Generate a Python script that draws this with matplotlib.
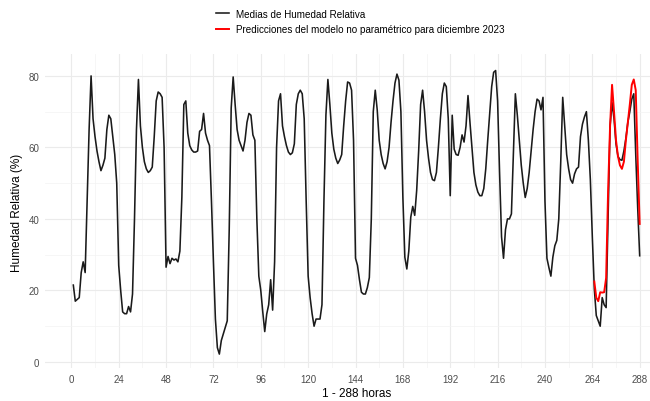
import matplotlib
matplotlib.use("Agg")
import matplotlib.pyplot as plt
import numpy as np

plt.rcParams['font.family'] = ['Liberation Sans', 'DejaVu Sans']

# Hourly mean relative humidity, hours 1..288
humedad = [
    21.5, 17, 17.5, 18, 25, 28, 25, 45, 65, 80,
    68, 63, 59, 56, 53.5, 55, 57, 65, 69, 68,
    63, 58, 50, 27, 20, 14, 13.5, 13.5, 15.5, 14,
    19, 40, 65, 79, 66, 60, 56, 54, 53, 53.5,
    54.5, 63, 73, 75.5, 75, 74, 60, 26.5, 29.5, 27.5,
    29, 28.5, 28.8, 28, 31, 46, 72, 73, 64, 60.5,
    59.3, 58.7, 58.7, 59, 64.5, 65, 69.5, 64, 62, 60.5,
    45, 28, 12, 4, 2.2, 6, 7.8, 9.5, 11.5, 37,
    71, 79.7, 72, 65, 62, 60.5, 59, 62, 67, 69.5,
    69, 63.5, 62, 40, 24, 20, 14, 8.5, 13.4, 16,
    23, 14.5, 28, 60, 73, 75, 66, 63, 60.5, 58.7,
    58, 58.5, 61, 72, 75, 76, 75, 68, 45, 24,
    18, 13.5, 10, 12, 12, 12, 16, 45, 69, 79,
    72, 64, 59.5, 57, 55.5, 56.5, 58, 66, 73, 78.3,
    78, 76, 62, 29, 27, 23, 19.5, 19, 19, 20.8,
    23.6, 40, 70, 76, 70.5, 62, 58, 55.5, 54, 56,
    60, 67, 73, 78, 80.5, 78.8, 70, 46, 29.3, 26,
    31, 40.5, 43.5, 41, 48, 59, 72, 76, 70, 62,
    57, 53, 51, 50.7, 53, 60, 68, 75, 78, 77,
    68, 46.5, 69, 59.5, 58, 57.8, 60, 63.5, 61.5, 66,
    74.5, 67, 60, 53, 49.5, 47.5, 46.5, 46.5, 48.5, 54,
    62, 69.5, 77, 81, 81.5, 73, 53, 35, 29, 37,
    40, 40, 41.4, 58, 75, 69, 62, 55, 50, 46,
    48.5, 53, 59, 65, 70, 73.5, 73, 70.5, 74, 45,
    29, 26.4, 24, 29.3, 32.5, 34, 40, 56, 74, 66,
    58, 54, 51, 50, 52.6, 54, 54.5, 63, 66.5, 68.5,
    70, 62, 51, 35, 20.5, 13, 11.5, 10, 18, 16,
    15.2, 40, 66, 72.5, 68, 61, 57.5, 56.6, 56.4, 59,
    62.5, 67, 70, 73.5, 75, 58, 43, 29.7,
]
horas = list(range(1, len(humedad) + 1))

# Non-parametric model predictions, hours 265..288
pred_horas = list(range(265, 289))
prediccion = [
    22.5, 18, 17, 19.5, 19.4, 19.5, 23.5, 48, 66, 77.5,
    70, 62, 57.5, 55, 54, 56, 62, 67, 72, 77.5,
    79, 76, 56, 38.6,
]

x_ticks = list(range(0, 289, 24))
y_ticks = [0, 20, 40, 60, 80]

fig = plt.figure(figsize=(6.5, 4.02), dpi=100)
ax = fig.add_axes([45/650, 0.0811, (668-45)/650, 0.781])

ax.plot(horas, humedad, color='#1a1a1a', lw=1.15, label='Medias de Humedad Relativa')
ax.plot(pred_horas, prediccion, color='#ff0000', lw=1.4,
        label='Predicciones del modelo no paramétrico para diciembre 2023')

ax.set_xlim(-13.35, 302.35)
ax.set_ylim(-1.8, 86)
ax.set_xticks(x_ticks)
ax.set_xticks(list(range(12, 300, 24)), minor=True)
ax.set_yticks(y_ticks)
ax.set_yticks([10, 30, 50, 70], minor=True)
ax.grid(True, which='major', color='#ebebeb', lw=0.8)
ax.grid(True, which='minor', color='#f3f3f3', lw=0.5)
ax.set_axisbelow(True)
for s in ax.spines.values():
    s.set_visible(False)
ax.tick_params(which='both', length=0, labelsize=7, labelcolor='#4d4d4d', pad=4)
ax.set_xlabel('1 - 288 horas', fontsize=8.5, color='black', labelpad=2)
ax.set_ylabel('Humedad Relativa (%)', fontsize=8.5, color='black', labelpad=4)

fig.legend(loc='upper left', bbox_to_anchor=(212/650, 1 - 6/402), frameon=False,
           fontsize=7.1, handlelength=1.3, handletextpad=0.7, labelspacing=0.55,
           borderaxespad=0)

fig.savefig('out.png', dpi=100)
